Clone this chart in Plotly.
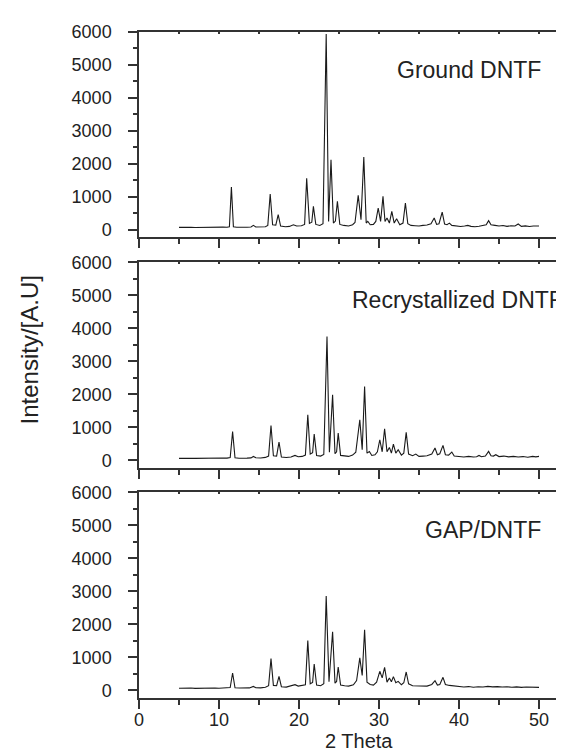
import plotly.graph_objects as go

# ---- data (2-theta, intensity vertices) ----
ground_x = [5.0, 5.5, 6.0, 6.5, 7.0, 7.5, 8.0, 8.5, 9.0, 9.5, 10.0, 10.5, 11.0, 11.3, 11.55, 11.8, 12.2, 12.8, 13.5, 14.0,
            14.3, 14.6, 15.2, 15.8, 16.1, 16.4, 16.7, 17.1, 17.4, 17.7, 18.3, 18.8, 19.3, 19.7, 20.3, 20.7, 20.96, 21.3, 21.6, 21.8,
            22.1, 22.6, 23.0, 23.4, 23.7, 24.0, 24.3, 24.55, 24.8, 25.1, 25.6, 26.2, 26.7, 27.0, 27.4, 27.75, 28.1, 28.4, 28.6, 28.9,
            29.3, 29.6, 29.9, 30.2, 30.5, 30.75, 31.0, 31.3, 31.6, 31.9, 32.2, 32.6, 33.0, 33.3, 33.6, 34.0, 34.5, 35.0, 35.5, 36.0,
            36.5, 36.9, 37.2, 37.5, 37.9, 38.2, 38.5, 38.8, 39.1, 39.6, 40.2, 40.7, 41.1, 41.5, 42.0, 42.5, 43.0, 43.4, 43.7, 44.0,
            44.5, 45.0, 45.5, 46.0, 46.5, 47.0, 47.4, 47.8, 48.3, 48.8, 49.3, 49.7, 50.0]
ground_y = [70, 78, 65, 75, 68, 72, 62, 74, 66, 72, 70, 78, 75, 90, 1295, 85, 72, 66, 74, 80,
            130, 82, 75, 88, 130, 1083, 150, 140, 455, 110, 90, 100, 150, 110, 120, 160, 1558, 190, 230, 708,
            160, 130, 180, 5940, 250, 2125, 200, 260, 860, 160, 130, 110, 150, 220, 1042, 300, 2206, 200, 255, 150,
            160, 250, 658, 250, 1012, 250, 354, 200, 556, 200, 334, 150, 200, 810, 180, 130, 120, 110, 130, 140,
            180, 354, 160, 180, 536, 170, 150, 200, 130, 110, 95, 110, 130, 100, 90, 105, 120, 150, 273, 150,
            130, 110, 125, 100, 120, 110, 172, 100, 115, 95, 110, 100, 110]

recryst_x = [5.0, 5.5, 6.0, 6.5, 7.0, 7.5, 8.0, 8.5, 9.0, 9.5, 10.0, 10.5, 11.0, 11.4, 11.7, 12.0, 12.5, 13.0, 13.5, 14.0,
             14.3, 14.6, 15.2, 15.8, 16.2, 16.5, 16.8, 17.2, 17.5, 17.8, 18.4, 19.0, 19.5, 19.9, 20.4, 20.8, 21.1, 21.4, 21.7, 21.9,
             22.2, 22.7, 23.1, 23.5, 23.8, 24.2, 24.5, 24.7, 24.9, 25.2, 25.7, 26.2, 26.7, 27.1, 27.6, 27.9, 28.2, 28.5, 28.8, 29.1,
             29.5, 29.8, 30.1, 30.4, 30.7, 31.0, 31.3, 31.55, 31.8, 32.1, 32.4, 32.8, 33.1, 33.4, 33.7, 34.2, 34.6, 35.0, 35.5, 36.0,
             36.6, 37.0, 37.3, 37.6, 38.0, 38.3, 38.7, 39.1, 39.4, 40.0, 40.6, 41.2, 41.8, 42.2, 42.5, 42.8, 43.3, 43.7, 44.0, 44.3,
             44.6, 45.0, 45.6, 46.2, 46.8, 47.4, 48.0, 48.6, 49.2, 49.6, 50.0]
recryst_y = [60, 68, 58, 66, 60, 64, 55, 66, 60, 65, 62, 70, 68, 85, 870, 80, 65, 60, 68, 75,
             120, 78, 72, 90, 130, 1058, 140, 130, 554, 100, 85, 100, 150, 110, 120, 160, 1380, 190, 230, 796,
             150, 130, 180, 3750, 250, 1986, 200, 260, 826, 150, 130, 120, 160, 250, 1230, 320, 2238, 220, 270, 150,
             170, 260, 625, 260, 958, 260, 393, 220, 494, 220, 323, 160, 220, 847, 190, 140, 190, 120, 130, 140,
             190, 373, 170, 200, 454, 170, 160, 252, 130, 110, 100, 120, 100, 110, 150, 110, 130, 272, 140, 130,
             171, 115, 130, 105, 120, 100, 115, 95, 120, 105, 120]

gap_x = [5.0, 5.5, 6.0, 6.5, 7.0, 7.5, 8.0, 8.5, 9.0, 9.5, 10.0, 10.5, 11.0, 11.4, 11.7, 12.0, 12.6, 13.2, 13.8, 14.3,
         14.6, 15.2, 15.8, 16.2, 16.5, 16.8, 17.2, 17.5, 17.8, 18.4, 19.0, 19.5, 19.9, 20.4, 20.8, 21.1, 21.4, 21.7, 21.9, 22.2,
         22.7, 23.1, 23.4, 23.75, 24.2, 24.5, 24.7, 24.9, 25.2, 25.7, 26.2, 26.8, 27.2, 27.6, 27.9, 28.2, 28.5, 28.9, 29.3, 29.7,
         30.1, 30.4, 30.7, 31.0, 31.3, 31.55, 31.8, 32.1, 32.4, 32.8, 33.1, 33.4, 33.7, 34.2, 34.8, 35.4, 36.0, 36.6, 37.0, 37.3,
         37.6, 38.0, 38.3, 38.8, 39.3, 40.0, 40.6, 41.2, 41.8, 42.4, 43.0, 43.6, 44.2, 44.8, 45.4, 46.0, 46.6, 47.2, 47.8, 48.4,
         49.0, 49.6, 50.0]
gap_y = [65, 72, 60, 70, 62, 68, 58, 70, 64, 70, 66, 74, 72, 85, 527, 80, 70, 64, 75, 120,
         80, 76, 95, 140, 963, 150, 140, 426, 110, 100, 130, 172, 130, 150, 170, 1510, 200, 240, 800, 160,
         140, 200, 2858, 260, 1774, 220, 270, 709, 160, 140, 130, 170, 300, 983, 450, 1834, 250, 180, 160, 250,
         578, 380, 700, 250, 375, 260, 415, 230, 274, 170, 230, 557, 200, 140, 130, 120, 130, 180, 294, 160,
         180, 395, 180, 150, 130, 110, 100, 115, 95, 110, 100, 120, 105, 115, 100, 110, 95, 105, 90, 100,
         92, 98, 91]

panel_labels = ["Ground DNTF", "Recrystallized DNTF", "GAP/DNTF"]
x_ticks = [0, 10, 20, 30, 40, 50]
y_ticks = [0, 1000, 2000, 3000, 4000, 5000, 6000]

# ---- layout geometry ----
W, H = 564, 752
ML, MT, MB = 131, 24, 62
plot_w = W - ML
plot_h = H - MT - MB  # 666
def frac(px_top, px_bot):
    return [(H - MB - px_bot) / plot_h, (H - MB - px_top) / plot_h]

domains = [frac(24, 229.3), frac(254.3, 460), frac(484.3, 690)]
XR = [0, (564 - 131) / 8.0]
YR = [-231, 6000]

FONT = "Liberation Sans, Arial, sans-serif"
AXC = "#333333"
TXT = "#222222"

fig = go.Figure()
series = [(ground_x, ground_y), (recryst_x, recryst_y), (gap_x, gap_y)]
for i, (xs, ys) in enumerate(series):
    n = "" if i == 0 else str(i + 1)
    fig.add_trace(go.Scatter(x=xs, y=ys, mode="lines",
                             line=dict(color="#1a1a1a", width=1.1),
                             xaxis="x" + n, yaxis="y" + n, showlegend=False,
                             hoverinfo="skip"))
    # empty trace so the top (mirror) axis gets drawn
    fig.add_trace(go.Scatter(x=[], y=[], xaxis="x" + str(i + 4), yaxis="y" + n,
                             showlegend=False))

layout = dict(width=W, height=H, margin=dict(l=ML, r=0, t=MT, b=MB, autoexpand=False),
              paper_bgcolor="white", plot_bgcolor="white",
              font=dict(family=FONT, color=TXT))

for i in range(3):
    n = "" if i == 0 else str(i + 1)
    layout["xaxis" + n] = dict(
        domain=[0, 1], range=XR, anchor="y" + n, automargin=False,
        showline=True, linecolor=AXC, linewidth=1.5,
        showgrid=False, zeroline=False,
        ticks="outside", ticklen=9, tickwidth=1.5, tickcolor=AXC,
        tickvals=x_ticks, showticklabels=(i == 2),
        tickfont=dict(size=18, color=TXT), ticklabelstandoff=-4,
        minor=dict(ticks="outside", ticklen=5, tickwidth=1.5, tickcolor=AXC, dtick=5, tick0=0),
    )
    layout["xaxis" + str(i + 4)] = dict(
        domain=[0, 1], range=XR, anchor="y" + n, overlaying="x" + n, side="top",
        automargin=False,
        showline=True, linecolor=AXC, linewidth=1.5,
        showgrid=False, zeroline=False, showticklabels=False,
        ticks="inside", ticklen=2, tickwidth=1.5, tickcolor=AXC, dtick=5, tick0=0,
    )
    layout["yaxis" + n] = dict(
        domain=domains[i], range=YR, anchor="x" + n, automargin=False,
        showline=True, linecolor=AXC, linewidth=1.5,
        showgrid=False, zeroline=False,
        ticks="outside", ticklen=9, tickwidth=1.5, tickcolor=AXC,
        tickvals=y_ticks, tickfont=dict(size=18, color=TXT),
        ticklabelstandoff=13,
        minor=dict(ticks="outside", ticklen=4, tickwidth=1.5, tickcolor=AXC, dtick=500, tick0=0),
    )

fig.update_layout(**layout)

label_right = [50.5, 53.2, 50.5]
annos = []
for i, txt in enumerate(panel_labels):
    n = "" if i == 0 else str(i + 1)
    annos.append(dict(text=txt, x=label_right[i], y=4850, xref="x" + n, yref="y" + n,
                      xanchor="right", yanchor="middle", showarrow=False,
                      font=dict(size=23, color=TXT, family=FONT)))
annos.append(dict(text="2 Theta", x=27.5, xref="x3", y=(H - MB - 733) / plot_h, yref="paper",
                  xanchor="center", yanchor="middle", showarrow=False,
                  font=dict(size=20, color=TXT, family=FONT)))
annos.append(dict(text="Intensity/[A.U]", x=(20.5 - ML) / plot_w, xref="paper", xanchor="center",
                  y=(H - MB - 342) / plot_h, yref="paper", yanchor="middle",
                  textangle=-90, showarrow=False,
                  font=dict(size=24, color=TXT, family=FONT)))
fig.update_layout(annotations=annos)

fig.write_html("out.html")
